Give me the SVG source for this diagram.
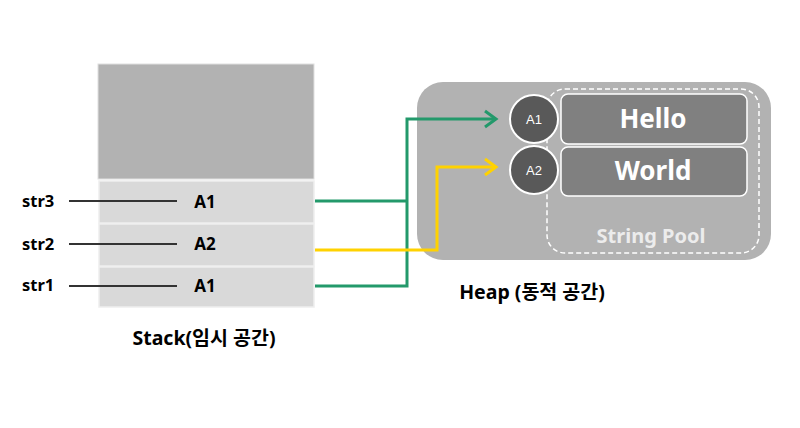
<svg xmlns="http://www.w3.org/2000/svg" width="800" height="428" viewBox="0 0 800 428">
<defs>
<style>
.lbl{font-family:"Noto Sans","Noto Sans CJK KR",sans-serif;font-weight:bold;fill:#000;}
.cell{fill:#d9d9d9;stroke:#eeeeee;stroke-width:1.5;}
.ptr{stroke:#333;stroke-width:2;}
.g{fill:none;stroke:#23996b;stroke-width:3;}
.y{fill:none;stroke:#ffd200;stroke-width:3;}
.circ{fill:#595959;stroke:#ffffff;stroke-width:2;}
.box{fill:#808080;stroke:#ffffff;stroke-width:1.5;}
.big{font-family:"Noto Sans",sans-serif;font-weight:bold;fill:#fff;font-size:26px;}
</style>
</defs>
<rect width="800" height="428" fill="#fff"/>
<g id="stack">
<rect x="98" y="64" width="216" height="115" fill="#b2b2b2" stroke="#e0e0e0" stroke-width="1"/>
<rect class="cell" x="99" y="181" width="215" height="42"/>
<rect class="cell" x="99" y="224" width="215" height="42"/>
<rect class="cell" x="99" y="267" width="215" height="40"/>
<text class="lbl" x="205" y="208" font-size="17" text-anchor="middle">A1</text>
<text class="lbl" x="205" y="250" font-size="17" text-anchor="middle">A2</text>
<text class="lbl" x="205" y="292" font-size="17" text-anchor="middle">A1</text>
<text class="lbl" x="204" y="345" font-size="19.5" text-anchor="middle">Stack(임시 공간)</text>
</g>
<g id="vars">
<text class="lbl" x="22" y="207" font-size="16.5">str3</text>
<text class="lbl" x="22" y="250" font-size="16.5">str2</text>
<text class="lbl" x="22" y="291" font-size="16.5">str1</text>
<line class="ptr" x1="69" y1="201" x2="177" y2="201"/>
<line class="ptr" x1="69" y1="244" x2="177" y2="244"/>
<line class="ptr" x1="69" y1="286" x2="177" y2="286"/>
</g>
<g id="heap">
<rect x="417" y="82" width="354" height="178" rx="26" fill="#b2b2b2"/>
<rect x="547" y="89" width="212" height="164" rx="18" fill="none" stroke="#ffffff" stroke-width="1.5" stroke-dasharray="5,3"/>
<text x="651" y="243" font-family="Noto Sans,sans-serif" font-weight="bold" font-size="20" fill="#ececec" text-anchor="middle">String Pool</text>
<text class="lbl" x="532" y="299" font-size="19.5" text-anchor="middle">Heap (동적 공간)</text>
</g>
<g id="hello">
<rect class="box" x="561" y="94" width="186" height="50" rx="7"/>
<text class="big" x="653" y="128" text-anchor="middle">Hello</text>
</g>
<g id="world">
<rect class="box" x="561" y="147" width="186" height="49" rx="7"/>
<text class="big" x="653" y="180" text-anchor="middle">World</text>
</g>
<g id="a1">
<circle class="circ" cx="534" cy="119" r="24"/>
<text x="534" y="124" font-family="Liberation Sans,sans-serif" font-size="13" fill="#fff" text-anchor="middle">A1</text>
</g>
<g id="a2">
<circle class="circ" cx="534" cy="170" r="24"/>
<text x="534" y="175" font-family="Liberation Sans,sans-serif" font-size="13" fill="#fff" text-anchor="middle">A2</text>
</g>
<g id="connectors">
<polyline class="g" points="315,201 407,201"/>
<polyline class="g" points="315,286 407,286 407,119 496,119"/>
<polyline class="y" points="315,250 437,250 437,167 496,167"/>
<path d="M485,159 L496,167 L485,175" fill="none" stroke="#ffd200" stroke-width="3"/>
<path d="M485,111 L496,119 L485,127" fill="none" stroke="#23996b" stroke-width="3"/>
</g>
</svg>
